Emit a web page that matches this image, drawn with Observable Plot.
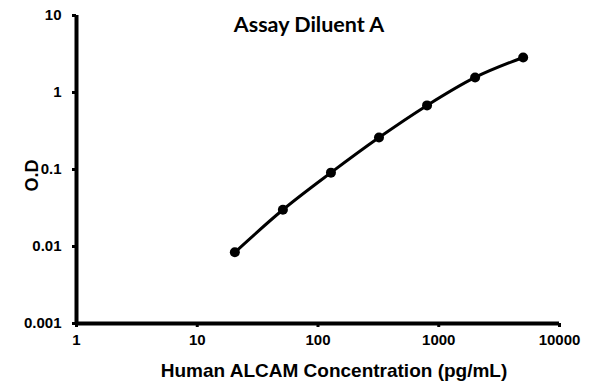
<!DOCTYPE html>
<html><head><meta charset="utf-8">
<script src="https://cdn.jsdelivr.net/npm/d3@7"></script>
<script src="https://cdn.jsdelivr.net/npm/@observablehq/plot@0.6"></script>
<style>body{margin:0;background:#fff}</style>
</head><body><div id="chart"></div>
<script>
const concentrations = [20.48, 51.2, 128, 320, 800, 2000, 5000];
const odValues = [0.0084, 0.030, 0.091, 0.26, 0.68, 1.57, 2.85];
const xTicks = [1, 10, 100, 1000, 10000];
const yTicks = [0.001, 0.01, 0.1, 1, 10];
const title = "Assay Diluent A";
const xLabel = "Human ALCAM Concentration (pg/mL)";
const yLabel = "O.D";

const data = concentrations.map((c, i) => ({x: c, y: odValues[i]}));
const font = "'Liberation Sans', Arial, sans-serif";

const chart = Plot.plot({
  width: 595, height: 384,
  marginLeft: 76, marginRight: 36, marginTop: 15, marginBottom: 61,
  style: {fontFamily: font, background: "#fff", color: "#000"},
  x: {type: "log", domain: [1, 10000], axis: null},
  y: {type: "log", domain: [0.001, 10], axis: null},
  marks: [
    Plot.axisX(xTicks, {tickSize: 4, tickPadding: 7, tickFormat: d => String(d), fontSize: 15, fontWeight: "bold", strokeWidth: 3, label: null}),
    Plot.axisY(yTicks, {tickSize: 4, tickPadding: 11, tickFormat: d => String(d), fontSize: 15, fontWeight: "bold", strokeWidth: 3, label: null}),
    Plot.ruleX([1], {strokeWidth: 4, stroke: "#000", y1: 0.001, y2: 10}),
    Plot.ruleY([0.001], {strokeWidth: 4, stroke: "#000", x1: 1, x2: 10000}),
    Plot.line(data, {x: "x", y: "y", curve: "monotone-x", strokeWidth: 3, stroke: "#000"}),
    Plot.dot(data, {x: "x", y: "y", r: 5, fill: "#000", stroke: "none"}),
    Plot.text([title], {frameAnchor: "top", dx: -9, dy: 1, fontSize: 21.5, fontWeight: "bold", fontFamily: "Lato, 'Open Sans', sans-serif", fill: "#000"}),
    Plot.text([xLabel], {frameAnchor: "bottom", dx: 16, dy: 53, fontSize: 19, fontWeight: "bold", fill: "#000"}),
    Plot.text([yLabel], {frameAnchor: "left", rotate: -90, dx: -44, dy: 22, fontSize: 18, fontWeight: "bold", fill: "#000"})
  ]
});
document.getElementById("chart").appendChild(chart);
</script>
</body></html>
